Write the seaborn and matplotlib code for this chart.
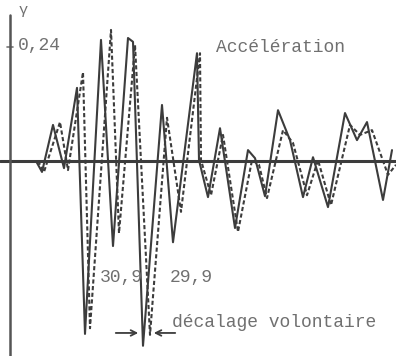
import matplotlib
matplotlib.use("Agg")
import matplotlib.pyplot as plt
import seaborn as sns
import pandas as pd

# Acceleration records (time in s, acceleration in g)
t_solid = [1.30, 1.60, 2.15, 2.70, 3.35, 3.75, 4.55, 5.15, 5.90, 6.15, 6.65,
           7.60, 8.15, 9.35, 9.45, 9.90, 10.50, 11.25, 11.90, 12.25, 12.75,
           13.40, 14.00, 14.65, 15.15, 15.90, 16.75, 17.35, 17.85, 18.65, 19.10]
g_solid = [0.000, -0.023, 0.076, -0.015, 0.154, -0.364, 0.255, -0.179, 0.259,
           0.251, -0.389, 0.118, -0.171, 0.227, 0.002, -0.076, 0.069, -0.141,
           0.023, 0.006, -0.074, 0.107, 0.044, -0.076, 0.008, -0.097, 0.101,
           0.044, 0.082, -0.082, 0.023]

t_dashed = [1.40, 1.70, 2.50, 2.90, 3.65, 4.00, 5.05, 5.45, 6.25, 7.00, 7.85,
            8.55, 9.50, 9.55, 10.05, 10.65, 11.40, 12.10, 12.45, 12.85, 13.65,
            14.15, 14.85, 15.40, 16.05, 17.00, 17.50, 18.10, 18.90, 19.30]
g_dashed = [0.000, -0.023, 0.082, -0.019, 0.187, -0.352, 0.276, -0.152, 0.244,
            -0.366, 0.091, -0.107, 0.227, 0.002, -0.072, 0.055, -0.149, 0.002,
            -0.008, -0.078, 0.065, 0.038, -0.072, 0.002, -0.093, 0.076, 0.055,
            0.065, -0.029, -0.008]

series_names = ["mesure", "calcul"]
y_tick_value = 0.24
y_tick_label = "0,24"
y_axis_label = "γ"
title_text = "Accélération"
note_left = "30,9"
note_right = "29,9"
note_shift = "décalage volontaire"

df = pd.concat([
    pd.DataFrame({"t": t_solid, "g": g_solid, "courbe": series_names[0]}),
    pd.DataFrame({"t": t_dashed, "g": g_dashed, "courbe": series_names[1]}),
], ignore_index=True)

sns.set_style("white")
plt.rcParams["font.family"] = ["Liberation Mono", "DejaVu Sans Mono"]

ink = "#3c3c3c"
txt = "#707070"

fig = plt.figure(figsize=(3.96, 3.56), dpi=100)
ax = fig.add_axes([0, 0, 1, 1])

sns.lineplot(data=df, x="t", y="g", style="courbe", estimator=None, sort=False,
             dashes={series_names[0]: "", series_names[1]: (2.0, 1.2)},
             color=ink, linewidth=1.5, legend=False, ax=ax)

ax.set_xlim(-0.5, 19.3)
ax.set_ylim(-0.4105, 0.339)
for s in ax.spines.values():
    s.set_visible(False)
ax.set_xticks([])
ax.set_yticks([])
ax.set_xlabel("")
ax.set_ylabel("")

# axes drawn through the origin
ax.axhline(0, color=ink, linewidth=2.2, zorder=3)
ax.plot([0, 0], [-0.4105, 0.307], color="#555555", linewidth=1.8, zorder=3)
ax.plot([-0.15, 0.15], [y_tick_value, y_tick_value], color="#777777", linewidth=1.2)

fs = 13
ax.text(0.45, 0.318, y_axis_label, fontsize=11, color=txt, va="center", ha="left")
ax.text(0.40, y_tick_value + 0.003, y_tick_label, fontsize=fs, color=txt,
        va="center", ha="left")
ax.text(10.3, y_tick_value, title_text, fontsize=fs, color=txt, va="center", ha="left")
ax.text(4.5, -0.246, note_left, fontsize=fs, color=txt, va="center", ha="left")
ax.text(8.0, -0.246, note_right, fontsize=fs, color=txt, va="center", ha="left")
ax.text(8.1, -0.341, note_shift, fontsize=fs, color=txt, va="center", ha="left")

arrow_y = -0.362
ax.annotate("", xy=(6.55, arrow_y), xytext=(5.15, arrow_y),
            arrowprops=dict(arrowstyle="->", color=ink, lw=1.3))
ax.annotate("", xy=(7.05, arrow_y), xytext=(8.4, arrow_y),
            arrowprops=dict(arrowstyle="->", color=ink, lw=1.3))

fig.savefig("out.png", dpi=100, facecolor="white")
